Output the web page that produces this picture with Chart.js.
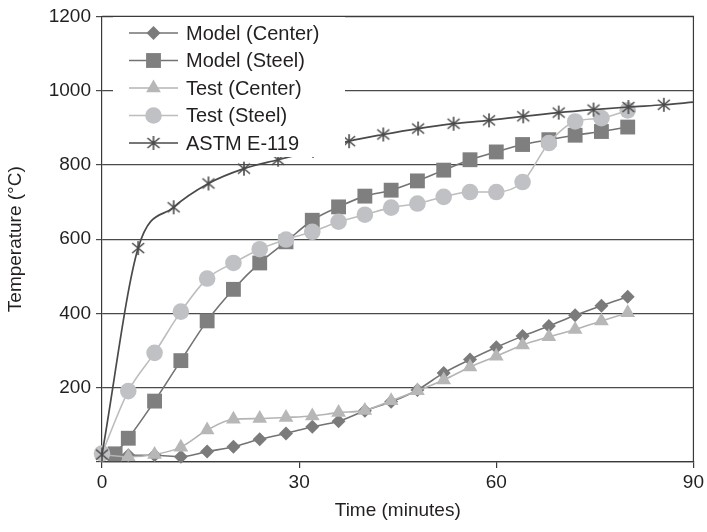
<!DOCTYPE html>
<html>
<head>
<meta charset="utf-8">
<script src="https://cdn.jsdelivr.net/npm/chart.js@4.4.1/dist/chart.umd.min.js"></script>
<style>
  html, body { margin: 0; padding: 0; background: #fff; }
  #wrap { width: 707px; height: 532px; }
</style>
</head>
<body>
<div id="wrap"><canvas id="chart"></canvas></div>
<script>
const seriesNames = ['Model (Center)', 'Model (Steel)', 'Test (Center)', 'Test (Steel)', 'ASTM E-119'];

// time in minutes, temperature in °C
const times = [0, 4, 8, 12, 16, 20, 24, 28, 32, 36, 40, 44, 48, 52, 56, 60, 64, 68, 72, 76, 80];
const modelCenter = [20, 18, 18, 14, 28, 41, 61, 77, 95, 110, 138, 162, 194, 240, 276, 309, 339, 366, 395, 421, 445];
const testCenter = [20, 14, 20, 40, 86, 115, 117, 120, 124, 133, 139, 165, 192, 221, 256, 285, 315, 337, 357, 380, 402];
const testSteel = [23, 191, 294, 405, 494, 536, 573, 599, 620, 647, 666, 685, 696, 714, 727, 727, 754, 859, 917, 926, 947];

const modelSteelTimes = [2, 4, 8, 12, 16, 20, 24, 28, 32, 36, 40, 44, 48, 52, 56, 60, 64, 68, 72, 76, 80];
const modelSteel = [22, 64, 164, 273, 380, 465, 536, 593, 651, 687, 716, 732, 757, 786, 814, 835, 855, 868, 880, 890, 902];

const astmTimes = [0, 5.5, 10.9, 16.2, 21.6, 26.8, 32.1, 37.6, 42.8, 48.1, 53.5, 58.9, 64.1, 69.5, 74.8, 80.1, 85.5, 90];
const astm = [20, 576, 686, 750, 790, 814, 838, 864, 882, 898, 911, 920, 931, 941, 949, 956, 962, 969];

const xTicks = [0, 30, 60, 90];
const yTicks = [0, 200, 400, 600, 800, 1000, 1200];

const FONT = '"Liberation Sans", Arial, Helvetica, sans-serif';

// asterisk marker like Excel's star
const star = document.createElement('canvas');
star.width = 16; star.height = 16;
(function () {
  const c = star.getContext('2d');
  c.strokeStyle = '#4a4a4a';
  c.lineWidth = 1.6;
  c.beginPath();
  c.moveTo(8, 1); c.lineTo(8, 15);
  c.moveTo(2, 3); c.lineTo(14, 13);
  c.moveTo(14, 3); c.lineTo(2, 13);
  c.stroke();
})();

function pts(xs, ys) {
  return xs.map((x, i) => ({ x: x, y: ys[i] }));
}

function drawMarker(ctx, ds, x, y) {
  const st = ds.pointStyle, r = ds.pointRadius;
  ctx.save();
  ctx.fillStyle = ds.pointBackgroundColor;
  ctx.beginPath();
  if (st === star) {
    ctx.drawImage(star, x - star.width / 2, y - star.height / 2);
  } else if (st === 'rectRot') {
    ctx.moveTo(x, y - r); ctx.lineTo(x + r, y); ctx.lineTo(x, y + r); ctx.lineTo(x - r, y);
    ctx.closePath(); ctx.fill();
  } else if (st === 'rect') {
    const s = r * Math.SQRT1_2;
    ctx.rect(x - s, y - s, 2 * s, 2 * s); ctx.fill();
  } else if (st === 'triangle') {
    for (let k = 0; k < 3; k++) {
      const a = k * 2 * Math.PI / 3;
      const px = x + Math.sin(a) * r, py = y - Math.cos(a) * r;
      if (k === 0) ctx.moveTo(px, py); else ctx.lineTo(px, py);
    }
    ctx.closePath(); ctx.fill();
  } else {
    ctx.arc(x, y, r, 0, Math.PI * 2); ctx.fill();
  }
  ctx.restore();
}

const frame = {
  id: 'frame',
  beforeDatasetsDraw(chart) {
    const a = chart.chartArea, ctx = chart.ctx;
    ctx.save();
    ctx.strokeStyle = '#3a3a3a';
    ctx.lineWidth = 1.2;
    ctx.beginPath();
    ctx.moveTo(a.left, a.top); ctx.lineTo(a.right, a.top); ctx.lineTo(a.right, a.bottom);
    ctx.stroke();
    ctx.restore();
  }
};

const boxLegend = {
  id: 'boxLegend',
  afterDatasetsDraw(chart) {
    const ctx = chart.ctx;
    ctx.save();
    ctx.fillStyle = '#ffffff';
    ctx.fillRect(113, 17, 232, 140);
    const sets = chart.data.datasets;
    ctx.font = '20px ' + FONT;
    ctx.textBaseline = 'middle';
    ctx.textAlign = 'left';
    sets.forEach((ds, i) => {
      const y = 33 + i * 27.5;
      ctx.strokeStyle = ds.borderColor;
      ctx.lineWidth = ds.borderWidth;
      ctx.beginPath();
      ctx.moveTo(129, y); ctx.lineTo(178, y);
      ctx.stroke();
      drawMarker(ctx, ds, 153.5, y);
      ctx.fillStyle = '#231f20';
      ctx.fillText(ds.label, 186, y + 1);
    });
    ctx.restore();
  }
};

const common = {
  showLine: true,
  fill: false,
  clip: false,
  cubicInterpolationMode: 'monotone',
  pointBorderWidth: 0
};

new Chart(document.getElementById('chart').getContext('2d'), {
  type: 'scatter',
  data: {
    datasets: [
      Object.assign({}, common, {
        label: seriesNames[0], data: pts(times, modelCenter), order: 4,
        borderColor: '#737373', borderWidth: 1.6,
        pointStyle: 'rectRot', pointRadius: 7, pointBackgroundColor: '#7b7b7b', pointBorderColor: '#7b7b7b'
      }),
      Object.assign({}, common, {
        label: seriesNames[1], data: pts(modelSteelTimes, modelSteel), order: 3,
        borderColor: '#737373', borderWidth: 1.6,
        pointStyle: 'rect', pointRadius: 10.5, pointBackgroundColor: '#7f7f7f', pointBorderColor: '#7f7f7f'
      }),
      Object.assign({}, common, {
        label: seriesNames[2], data: pts(times, testCenter), order: 2,
        borderColor: '#b4b4b4', borderWidth: 1.6,
        pointStyle: 'triangle', pointRadius: 8.5, pointBackgroundColor: '#b7b7b7', pointBorderColor: '#b7b7b7'
      }),
      Object.assign({}, common, {
        label: seriesNames[3], data: pts(times, testSteel), order: 1,
        borderColor: '#bdbdbd', borderWidth: 1.6,
        pointStyle: 'circle', pointRadius: 8.3, pointBackgroundColor: '#c0c1c5', pointBorderColor: '#c0c1c5'
      }),
      Object.assign({}, common, {
        label: seriesNames[4], data: pts(astmTimes, astm), order: 0,
        borderColor: '#4a4a4a', borderWidth: 1.7,
        pointStyle: star,
        pointRadius: (c) => (c.dataIndex === astmTimes.length - 1 ? 0 : 7),
        pointBackgroundColor: '#4a4a4a', pointBorderColor: '#4a4a4a'
      })
    ]
  },
  options: {
    responsive: true,
    maintainAspectRatio: false,
    animation: false,
    layout: { padding: { top: 16, right: 13, left: 0, bottom: 0 } },
    plugins: {
      legend: { display: false },
      tooltip: { enabled: false }
    },
    scales: {
      x: {
        type: 'linear',
        min: 0, max: 90,
        afterBuildTicks: (s) => { s.ticks = xTicks.map(v => ({ value: v })); },
        afterFit: (s) => { s.height = 70; },
        grid: { drawOnChartArea: false, drawTicks: true, tickLength: 6, color: '#3a3a3a', lineWidth: 1.2 },
        border: { display: true, color: '#3a3a3a', width: 1.2 },
        ticks: { color: '#231f20', font: { family: FONT, size: 19 }, padding: 3, maxRotation: 0 },
        title: { display: true, text: 'Time (minutes)', color: '#231f20', font: { family: FONT, size: 19 }, padding: { top: 4, bottom: 10 } }
      },
      y: {
        min: 0, max: 1200,
        afterBuildTicks: (s) => { s.ticks = yTicks.map(v => ({ value: v })); },
        afterFit: (s) => { s.width = 102; },
        grid: { drawTicks: true, tickLength: 6, color: '#4a4a4a', lineWidth: 1.2 },
        border: { display: true, color: '#3a3a3a', width: 1.2 },
        ticks: { color: '#231f20', font: { family: FONT, size: 19 }, padding: 5, callback: (v) => (v === 0 ? '' : v) },
        title: { display: true, text: 'Temperature (°C)', color: '#231f20', font: { family: FONT, size: 19 }, padding: { top: 4, bottom: 4 } }
      }
    }
  },
  plugins: [frame, boxLegend]
});
</script>
</body>
</html>
